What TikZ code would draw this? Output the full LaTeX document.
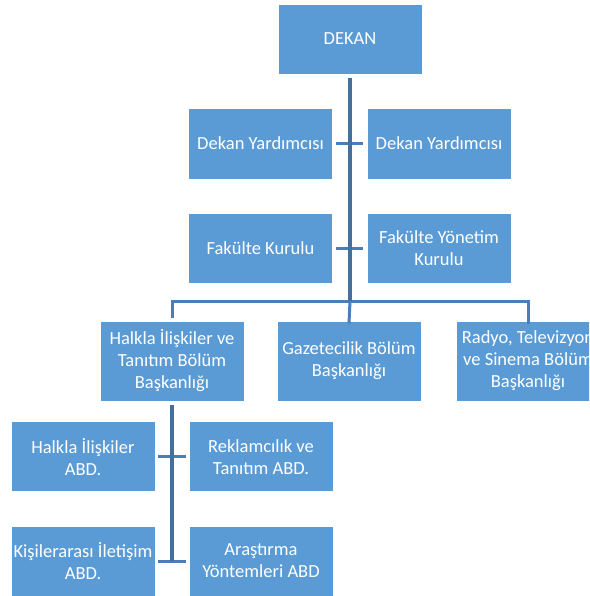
\documentclass[tikz,border=0pt]{standalone}
\usepackage{fontspec}
\setmainfont{Carlito}
\definecolor{boxblue}{HTML}{5B9BD5}
\definecolor{lineblue}{HTML}{4A7EBB}
\definecolor{spineblue}{HTML}{41719C}
\begin{document}
\begin{tikzpicture}[x=1pt,y=-1pt,
  orgbox/.style={rectangle,fill=boxblue,draw=white,line width=0.8pt,text=white,
    align=center,inner sep=0pt,font=\fontsize{18.5}{22}\selectfont},
  smallbox/.style={orgbox,minimum width=144pt,minimum height=70pt},
  tallbox/.style={orgbox,minimum width=144pt,minimum height=80pt},
  conn/.style={draw=lineblue,line width=3pt},
  spine/.style={draw=spineblue,line width=3.5pt}]
\clip (0,0) rectangle (589,596);
\fill[white] (0,0) rectangle (589,596);
% top
\node[smallbox] (dekan) at (350,39) {DEKAN};
\node[smallbox,minimum height=71pt] (dyl) at (260.5,143.5) {Dekan Yardımcısı};
\node[smallbox,minimum height=71pt] (dyr) at (439,143.5) {Dekan Yardımcısı};
\node[smallbox] (fk) at (260.5,248) {Fakülte Kurulu};
\node[smallbox] (fyk) at (439,248) {Fakülte Yönetim\\Kurulu};
% level 2
\node[tallbox] (hit) at (172,361) {Halkla İlişkiler ve\\Tanıtım Bölüm\\Başkanlığı};
\node[tallbox] (gaz) at (349,361) {Gazetecilik Bölüm\\Başkanlığı};
\node[tallbox] (rad) at (528,361) {Radyo, Televizyon\\ve Sinema Bölüm\\Başkanlığı};
% level 3
\node[smallbox] (hiabd) at (83,456.7) {Halkla İlişkiler\\ABD.};
\node[smallbox] (rtabd) at (261,456.7) {Reklamcılık ve\\Tanıtım ABD.};
\node[smallbox] (kiabd) at (83,561) {Kişilerarası İletişim\\ABD.};
\node[smallbox] (ayabd) at (261,561) {Araştırma\\Yöntemleri ABD};
% coordinates
\coordinate (spinetop) at (350,78);
\coordinate (bus) at (350,301);
\coordinate (busl) at (172,301);
\coordinate (busr) at (528,301);
\coordinate (l3top) at (172,404.6);
\coordinate (l3bot) at (172,561);
% connectors
\draw[conn] (dyl.east) ++(3.5,0) -- ([xshift=-3.5pt]dyr.west);
\draw[conn] (fk.east) ++(3.5,0) -- ([xshift=-3.5pt]fyk.west);
\draw[conn] (hit.north) ++(0,-3) -- (busl) -- (busr) -- ([yshift=-3pt]rad.north);
\draw[conn] (bus) -- ([yshift=-3pt]gaz.north);
\draw[spine] (spinetop) -- (bus);
\draw[conn] (hiabd.east) ++(3,0) -- ([xshift=-3pt]rtabd.west);
\draw[conn] (kiabd.east) ++(3,0) -- ([xshift=-3pt]ayabd.west);
\draw[spine] (l3top) -- (l3bot);
\end{tikzpicture}
\end{document}
